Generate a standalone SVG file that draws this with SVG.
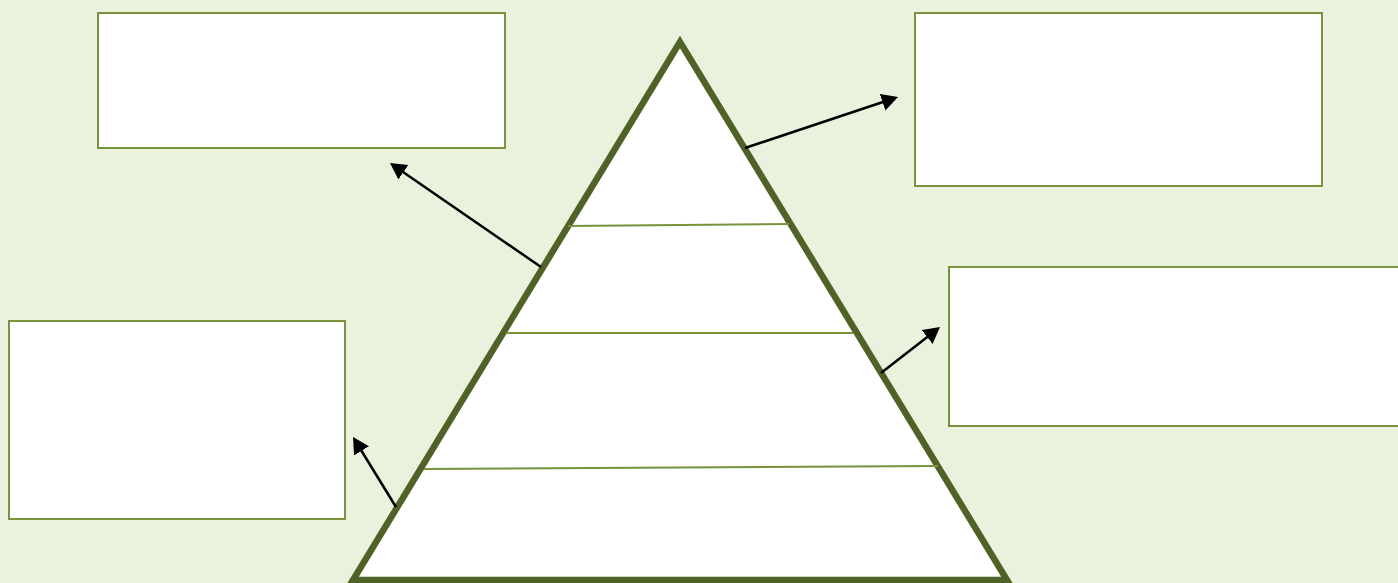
<svg xmlns="http://www.w3.org/2000/svg" width="1398" height="583" viewBox="0 0 1398 583">
<style>
.box{fill:#fff;stroke:#77933C;stroke-width:2}
.tier{stroke:#77933C;stroke-width:2;fill:none}
.arr{stroke:#000;stroke-width:2.5;fill:none;marker-end:url(#ah)}
</style>
<defs>
<marker id="ah" markerWidth="9" markerHeight="9" refX="3" refY="3.5" orient="auto" markerUnits="strokeWidth">
<path d="M0,0 L6.5,3.5 L0,7 Z" fill="#000"/>
</marker>
</defs>
<rect width="1398" height="583" fill="#EAF1DD"/>
<g id="pyramid">
<polygon points="680,42 353,580 1007,580" fill="#fff" stroke="#4F6228" stroke-width="6.5" stroke-linejoin="miter"/>
<line class="tier" x1="568" y1="226" x2="789" y2="224"/>
<line class="tier" x1="506" y1="333" x2="853" y2="333"/>
<line class="tier" x1="424" y1="469" x2="938" y2="466"/>
</g>
<g id="box-top-left"><rect class="box" x="98" y="13" width="407" height="135"/></g>
<g id="box-top-right"><rect class="box" x="915" y="13" width="407" height="173"/></g>
<g id="box-bottom-left"><rect class="box" x="9" y="321" width="336" height="198"/></g>
<g id="box-mid-right"><rect class="box" x="949" y="267" width="460" height="159"/></g>
<g id="connectors">
<line class="arr" x1="541" y1="267" x2="397.2" y2="168"/>
<line class="arr" x1="745" y1="148" x2="889.7" y2="99.8"/>
<line class="arr" x1="881" y1="373" x2="933.1" y2="332.4"/>
<line class="arr" x1="396" y1="507" x2="357.6" y2="444.5"/>
</g>
</svg>
